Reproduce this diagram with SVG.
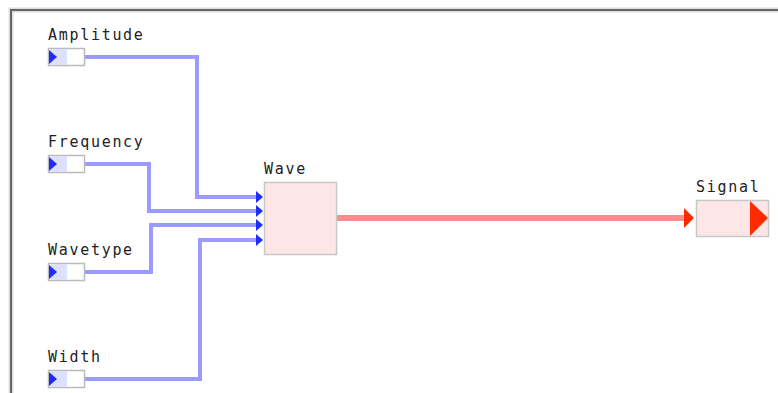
<svg xmlns="http://www.w3.org/2000/svg" width="778" height="393" viewBox="0 0 778 393">
<style>
.lbl{font-family:"DejaVu Sans Mono","Liberation Mono",monospace;font-size:15px;letter-spacing:1.7px;fill:#222}
.port{fill:#fff;stroke:#bbb;stroke-width:1.5}
.portfill{fill:#dde0ff}
.wire{fill:none;stroke:#9a9aff;stroke-width:4}
.out{fill:none;stroke:#ff8c8c;stroke-width:6}
.block{fill:#ffe6e6;stroke:#c8c8c8;stroke-width:1.5}
</style>
<rect x="0" y="0" width="778" height="393" fill="#fff"/>
<path d="M11 393 V10 H778" fill="none" stroke="#ddd" stroke-width="5"/>
<path d="M11 393 V10 H778" fill="none" stroke="#666" stroke-width="2"/>
<g id="connectors">
<path class="wire" d="M85 57 H197 V197 H258"/>
<path class="wire" d="M85 164 H149 V211 H258"/>
<path class="wire" d="M85 272 H151 V225 H258"/>
<path class="wire" d="M85 379 H200 V240 H258"/>
<path d="M256 191 L263 197 L256 203 Z" fill="#1f2bff"/>
<path d="M256 205 L263 211 L256 217 Z" fill="#1f2bff"/>
<path d="M256 219 L263 225 L256 231 Z" fill="#1f2bff"/>
<path d="M256 234 L263 240 L256 246 Z" fill="#1f2bff"/>
<path class="out" d="M336 218 H686"/>
<path d="M684 208 L694 218 L684 228 Z" fill="#ff2a00"/>
</g>
<g id="amplitude">
<text class="lbl" x="48" y="40">Amplitude</text>
<rect class="port" x="48.5" y="48.5" width="36" height="17"/>
<rect class="portfill" x="49" y="49" width="18" height="16"/>
<path d="M49 50 L57 57 L49 64 Z" fill="#1f2bff"/>
</g>
<g id="frequency">
<text class="lbl" x="48" y="147">Frequency</text>
<rect class="port" x="48.5" y="155.5" width="36" height="17"/>
<rect class="portfill" x="49" y="156" width="18" height="16"/>
<path d="M49 157 L57 164 L49 171 Z" fill="#1f2bff"/>
</g>
<g id="wavetype">
<text class="lbl" x="48" y="255">Wavetype</text>
<rect class="port" x="48.5" y="263.5" width="36" height="17"/>
<rect class="portfill" x="49" y="264" width="18" height="16"/>
<path d="M49 265 L57 272 L49 279 Z" fill="#1f2bff"/>
</g>
<g id="width">
<text class="lbl" x="48" y="362">Width</text>
<rect class="port" x="48.5" y="370.5" width="36" height="17"/>
<rect class="portfill" x="49" y="371" width="18" height="16"/>
<path d="M49 372 L57 379 L49 386 Z" fill="#1f2bff"/>
</g>
<g id="wave">
<text class="lbl" x="264" y="174">Wave</text>
<rect class="block" x="264.5" y="182.5" width="72" height="72"/>
</g>
<g id="signal">
<text class="lbl" x="696" y="192">Signal</text>
<rect class="block" x="696.5" y="200.5" width="72" height="36"/>
<path d="M750 201 L768 218 L750 236 Z" fill="#ff2a00"/>
</g>
</svg>
